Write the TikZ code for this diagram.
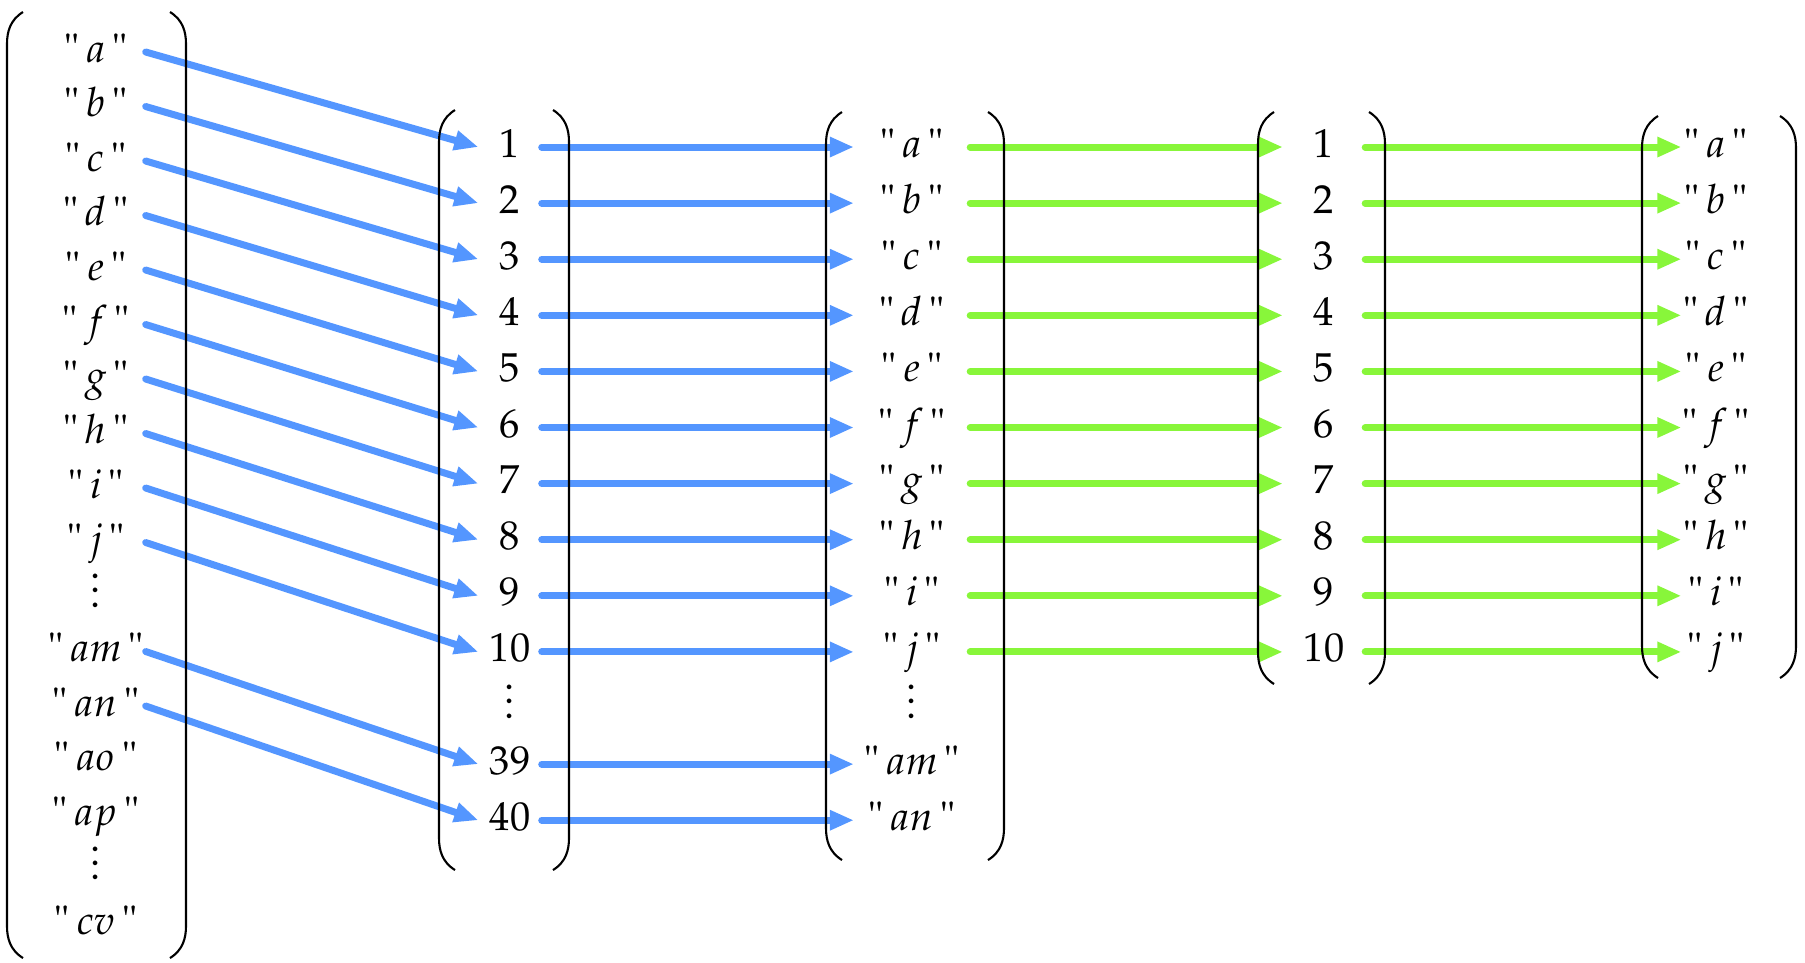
\documentclass[tikz,border=0pt]{standalone}
\usepackage[T1]{fontenc}
\usepackage{mathpazo}
\usetikzlibrary{arrows.meta}
\definecolor{blueedge}{RGB}{84,150,255}
\definecolor{greenedge}{RGB}{136,246,58}
\newcommand{\qstr}[1]{\textquotedbl\,$#1$\,\textquotedbl}
\begin{document}
\begin{tikzpicture}[x=0.1mm, y=-0.1mm,
        font=\fontsize{11.5}{13}\selectfont,
        entry/.style={inner sep=0pt, text height=3mm, text depth=1mm, align=center},
        edge/.style={line width=0.7mm, line cap=round, -{Triangle[length=2.4mm, width=1.9mm]}},
        paren/.style={line width=0.6pt}]
    \useasboundingbox (0,0) rectangle (1805,962);

    % columns
    \foreach \lbl [count=\k] in {\qstr{a},\qstr{b},\qstr{c},\qstr{d},\qstr{e},\qstr{f},\qstr{g},\qstr{h},\qstr{i},\qstr{j},\vdots,\qstr{am},\qstr{an},\qstr{ao},\qstr{ap},\vdots,\qstr{cv}}
        \node[entry, minimum width=9.8mm] (A\k) at (96, {52+54.5*(\k-1)}) {\lbl};
    \foreach \lbl [count=\k] in {1,2,3,4,5,6,7,8,9,10,\vdots,39,40}
        \node[entry, minimum width=6.2mm] (N\k) at (510, {147+56.1*(\k-1)}) {\lbl};
    \foreach \lbl [count=\k] in {\qstr{a},\qstr{b},\qstr{c},\qstr{d},\qstr{e},\qstr{f},\qstr{g},\qstr{h},\qstr{i},\qstr{j},\vdots,\qstr{am},\qstr{an}}
        \node[entry, minimum width=11.5mm] (S\k) at (912, {147+56.1*(\k-1)}) {\lbl};
    \foreach \lbl [count=\k] in {1,2,3,4,5,6,7,8,9,10}
        \node[entry, minimum width=8.1mm] (M\k) at (1324, {147+56.1*(\k-1)}) {\lbl};
    \foreach \lbl [count=\k] in {\qstr{a},\qstr{b},\qstr{c},\qstr{d},\qstr{e},\qstr{f},\qstr{g},\qstr{h},\qstr{i},\qstr{j}}
        \node[entry, minimum width=6.8mm] (R\k) at (1716, {147+56.1*(\k-1)}) {\lbl};

    % edges
    \foreach \k in {1,...,10,12,13} {
        \draw[edge, blueedge] (A\k.east) -- (N\k.west);
        \draw[edge, blueedge] (N\k.east) -- (S\k.west);
    }
    \foreach \k in {1,...,10} {
        \draw[edge, greenedge] (S\k.east) -- (M\k.west);
        \draw[edge, greenedge] (M\k.east) -- (R\k.west);
    }

    % parentheses
    \foreach \l/\r/\ya/\yb in {7/186/12/958, 439/569/110/870, 826/1004/112/860, 1258/1385/112/684, 1642/1796/116/678} {
        \draw[paren] ({\l+16},\ya) .. controls ({\l+3},{\ya+8}) and (\l,{\ya+20}) .. (\l,{\ya+32})
            -- (\l,{\yb-32}) .. controls (\l,{\yb-20}) and ({\l+3},{\yb-8}) .. ({\l+16},\yb);
        \draw[paren] ({\r-16},\ya) .. controls ({\r-3},{\ya+8}) and (\r,{\ya+20}) .. (\r,{\ya+32})
            -- (\r,{\yb-32}) .. controls (\r,{\yb-20}) and ({\r-3},{\yb-8}) .. ({\r-16},\yb);
    }
\end{tikzpicture}
\end{document}
